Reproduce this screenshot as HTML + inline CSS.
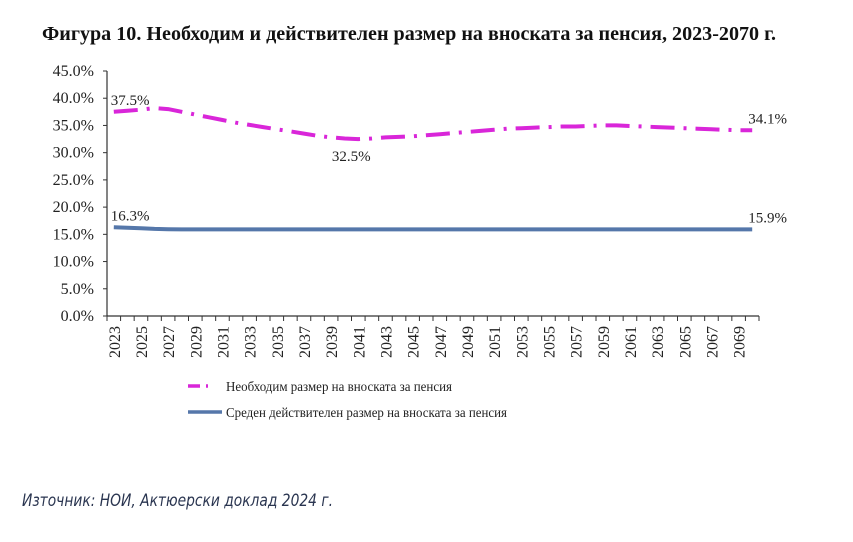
<!DOCTYPE html>
<html><head><meta charset="utf-8">
<style>
html,body{margin:0;padding:0;background:#fff;}
body{width:853px;height:542px;overflow:hidden;position:relative;}
svg{position:absolute;left:0;top:0;}
</style></head>
<body>
<svg width="853" height="542" id="chart">
  <text x="42" y="40" font-family="Liberation Serif, serif" font-weight="bold" font-size="19.5" textLength="734" lengthAdjust="spacingAndGlyphs" fill="#111">Фигура 10.  Необходим и действителен размер на вноската за пенсия, 2023-2070 г.</text>
  <g id="axes"></g>
  <g id="series"></g>
  <g>
    <g>
      <line x1="188" y1="386" x2="222" y2="386" stroke="#d926d9" stroke-width="3.5" stroke-dasharray="12 6 2 20"/>
      <text x="226" y="391" font-family="Liberation Serif, serif" font-size="13.5" textLength="226" lengthAdjust="spacingAndGlyphs" fill="#222">Необходим размер на вноската за пенсия</text>
    </g>
    <g>
      <line x1="188" y1="412" x2="222" y2="412" stroke="#5577aa" stroke-width="3.5"/>
      <text x="226" y="417" font-family="Liberation Serif, serif" font-size="13.5" textLength="281" lengthAdjust="spacingAndGlyphs" fill="#222">Среден действителен размер на вноската за пенсия</text>
    </g>
  </g>
  <text x="22" y="506" font-family="DejaVu Sans, sans-serif" font-style="italic" font-size="17" textLength="311" lengthAdjust="spacingAndGlyphs" fill="#2a3550">Източник: НОИ, Актюерски доклад 2024 г.</text>
</svg>
<script>
const years = [];
for (let y = 2023; y <= 2070; y++) years.push(y);
const requiredRate = [37.5,37.7,37.9,38.2,38.0,37.5,37.0,36.5,36.0,35.5,35.1,34.7,34.3,33.9,33.5,33.1,32.8,32.6,32.5,32.6,32.8,32.9,33.0,33.2,33.4,33.6,33.8,34.0,34.2,34.4,34.5,34.6,34.7,34.8,34.8,34.9,35.0,35.0,34.9,34.8,34.7,34.6,34.5,34.4,34.3,34.2,34.1,34.1];
const actualRate = [16.3,16.2,16.1,16.0,15.95,15.9,15.9,15.9,15.9,15.9,15.9,15.9,15.9,15.9,15.9,15.9,15.9,15.9,15.9,15.9,15.9,15.9,15.9,15.9,15.9,15.9,15.9,15.9,15.9,15.9,15.9,15.9,15.9,15.9,15.9,15.9,15.9,15.9,15.9,15.9,15.9,15.9,15.9,15.9,15.9,15.9,15.9,15.9];
const yTicks = [0,5,10,15,20,25,30,35,40,45];
const yTickLabels = ["0.0%","5.0%","10.0%","15.0%","20.0%","25.0%","30.0%","35.0%","40.0%","45.0%"];

const NS = "http://www.w3.org/2000/svg";
const X0 = 107, X1 = 759, Y0 = 316, Y1 = 71;
const band = (X1 - X0) / years.length;
const xPos = i => X0 + band * (i + 0.5);
const yPos = v => Y0 - (v / 45) * (Y0 - Y1);
function mk(tag, attrs, parent) {
  const e = document.createElementNS(NS, tag);
  for (const k in attrs) e.setAttribute(k, attrs[k]);
  parent.appendChild(e);
  return e;
}
const axes = document.getElementById('axes');
const ser = document.getElementById('series');

const yAxis = mk('line', {x1:X0, y1:Y1, x2:X0, y2:Y0, stroke:'#333', 'stroke-width':1.2}, axes);


const xAxis = mk('line', {x1:X0, y1:Y0, x2:X1, y2:Y0, stroke:'#333', 'stroke-width':1.2}, axes);



yTicks.forEach((v, i) => {
  const t = mk('line', {x1:X0-4, y1:yPos(v), x2:X0, y2:yPos(v), stroke:'#333', 'stroke-width':1}, axes);
  
  
  const l = mk('text', {x:X0-13, y:yPos(v)+5, 'text-anchor':'end', 'font-family':'Liberation Serif, serif', 'font-size':'16', fill:'#222'}, axes);
  l.textContent = yTickLabels[i];
  
  
});
for (let i = 0; i <= years.length; i++) {
  const x = X0 + band * i;
  const t = mk('line', {x1:x, y1:Y0, x2:x, y2:Y0+5, stroke:'#333', 'stroke-width':1}, axes);
  
  
}
years.forEach((yr, i) => {
  if (i % 2 !== 0) return;
  const x = xPos(i), y = Y0 + 10;
  const l = mk('text', {x:x, y:y, 'text-anchor':'end', transform:`rotate(-90 ${x} ${y}) translate(0 6)`, 'font-family':'Liberation Serif, serif', 'font-size':'16', fill:'#222'}, axes);
  l.textContent = yr;
  
  
});

function linePath(vals) {
  return vals.map((v, i) => (i ? 'L' : 'M') + xPos(i).toFixed(1) + ' ' + yPos(v).toFixed(1)).join(' ');
}
const p1 = mk('path', {d:linePath(requiredRate), fill:'none', stroke:'#d926d9', 'stroke-width':4, 'stroke-dasharray':'24 9 3 9', 'stroke-linejoin':'round'}, ser);


const p2 = mk('path', {d:linePath(actualRate), fill:'none', stroke:'#5577aa', 'stroke-width':4, 'stroke-linejoin':'round'}, ser);



function label(i, vals, dx, dy, anchor, name) {
  const t = mk('text', {x:xPos(i)+dx, y:yPos(vals[i])+dy, 'text-anchor':anchor, 'font-family':'Liberation Serif, serif', 'font-size':'15', fill:'#222'}, ser);
  t.textContent = vals[i].toFixed(1) + '%';
  
  
}
const last = years.length - 1;
const minIdx = requiredRate.indexOf(Math.min(...requiredRate));
label(0, requiredRate, -3, -7, 'start', 'label-required-first');
label(minIdx, requiredRate, -7, 22, 'middle', 'label-required-min');
label(last, requiredRate, -4, -7, 'start', 'label-required-last');
label(0, actualRate, -3, -7, 'start', 'label-actual-first');
label(last, actualRate, -4, -7, 'start', 'label-actual-last');
</script>
</body></html>
